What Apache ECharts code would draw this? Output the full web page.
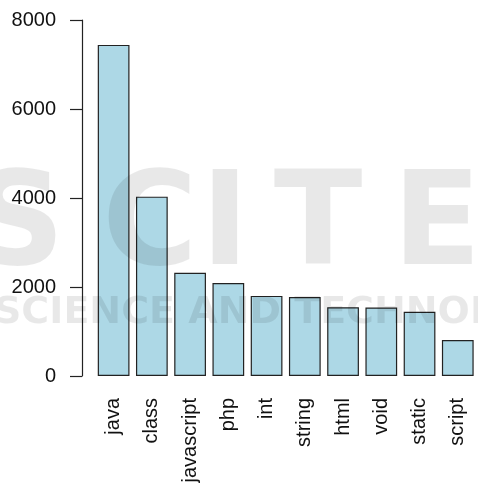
<!DOCTYPE html>
<html>
<head>
<meta charset="utf-8">
<script src="https://cdn.jsdelivr.net/npm/echarts@6/dist/echarts.min.js"></script>
<style>
  html, body { margin: 0; padding: 0; background: #fff; }
  #chart { width: 478px; height: 486px; }
</style>
</head>
<body>
<div id="chart"></div>
<script>
  // keyword counts
  const categories = ['java', 'class', 'javascript', 'php', 'int', 'string', 'html', 'void', 'static', 'script']
  const counts = [7440, 4030, 2320, 2090, 1800, 1775, 1545, 1540, 1445, 810]
  const yTicks = [0, 2000, 4000, 6000, 8000]

  const chart = echarts.init(document.getElementById('chart'))

  // faint watermark letters
  const bigLetters = [['S', 18], ['C', 150], ['I', 225], ['T', 318], ['E', 437]]
  const watermark = bigLetters.map(([ch, x]) => ({
    type: 'text',
    z: 100,
    silent: true,
    style: {
      text: ch, x: x, y: 165,
      fill: 'rgba(0,0,0,0.09)',
      font: 'bold 130px "DejaVu Sans", sans-serif',
      textAlign: 'center', textVerticalAlign: 'top'
    }
  }))
  watermark.push({
    type: 'text',
    z: 100,
    silent: true,
    style: {
      text: 'SCIENCE AND TECHNOLOGY', x: -6, y: 294,
      fill: 'rgba(0,0,0,0.09)',
      font: 'bold 38px "DejaVu Sans", sans-serif',
      textAlign: 'left', textVerticalAlign: 'top'
    }
  })

  const option = {
    animation: false,
    backgroundColor: '#fff',
    grid: { left: 94.5, right: 1.1, top: 20, bottom: 110, containLabel: false },
    xAxis: {
      type: 'category',
      data: categories,
      axisLine: { show: false },
      axisTick: { show: false },
      axisLabel: {
        rotate: 90,
        margin: 22,
        color: '#111',
        fontSize: 20,
        fontFamily: '"Liberation Sans", Arial, sans-serif'
      }
    },
    yAxis: {
      type: 'value',
      min: yTicks[0],
      max: yTicks[yTicks.length - 1],
      interval: 2000,
      offset: 12.5,
      splitLine: { show: false },
      axisLine: { show: true, lineStyle: { color: '#222', width: 1.2 } },
      axisTick: { show: true, length: 12, lineStyle: { color: '#222', width: 1.2 } },
      axisLabel: {
        margin: 26,
        color: '#111',
        fontSize: 20,
        fontFamily: '"Liberation Sans", Arial, sans-serif',
        formatter: v => String(v)
      }
    },
    series: [{
      type: 'bar',
      data: counts,
      barCategoryGap: '17%',
      itemStyle: { color: '#ADD8E6', borderColor: '#222', borderWidth: 1.2 }
    }],
    graphic: watermark
  }
  chart.setOption(option)
</script>
</body>
</html>
